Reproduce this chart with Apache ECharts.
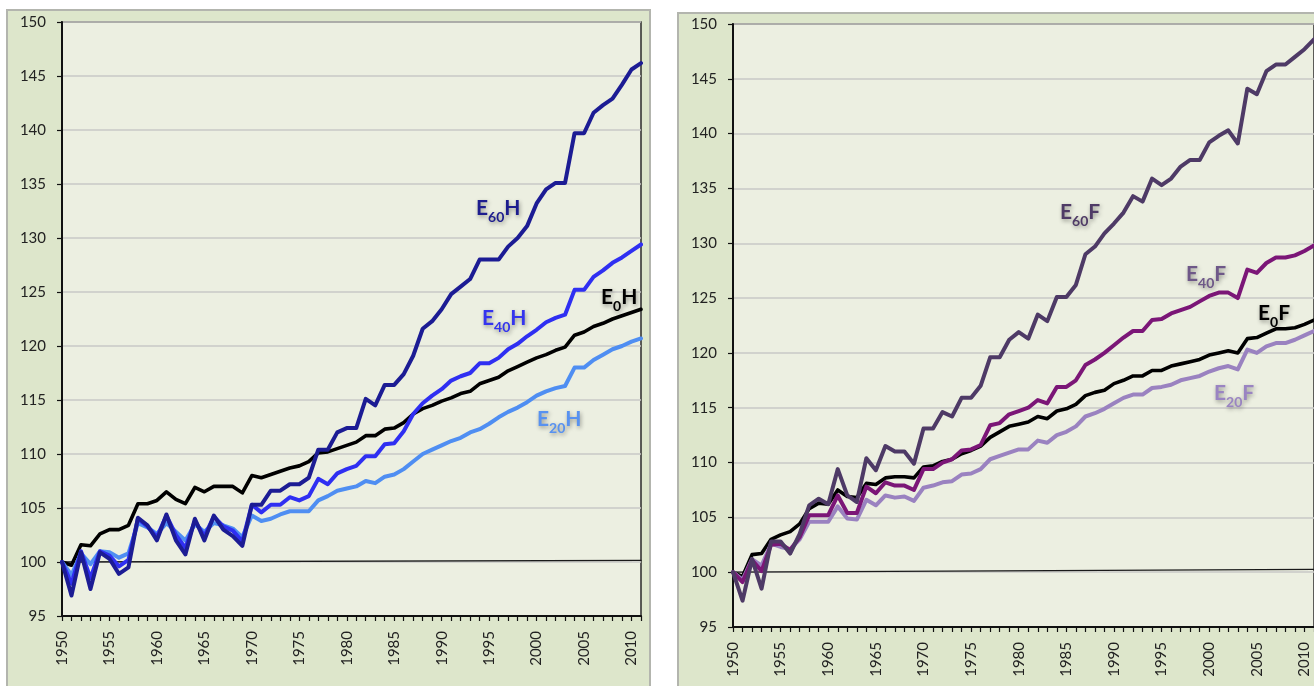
<!DOCTYPE html>
<html>
<head>
<meta charset="utf-8">
<style>
  html, body { margin: 0; padding: 0; background: #ffffff; }
  #chart { width: 1314px; height: 686px; }
</style>
<script src="https://cdn.jsdelivr.net/npm/echarts@6/dist/echarts.min.js"></script>
</head>
<body>
<div id="chart"></div>
<script>
// Index series, 1950 = 100
const years = [];
for (let y = 1950; y <= 2011; y++) years.push(String(y));

// H panel
const e0H = [100.0, 99.7, 101.6, 101.5, 102.6, 103.0, 103.0, 103.4, 105.4, 105.4,
  105.7, 106.5, 105.8, 105.4, 106.9, 106.5, 107.0, 107.0, 107.0, 106.4,
  108.0, 107.8, 108.1, 108.4, 108.7, 108.9, 109.3, 110.1, 110.2, 110.5,
  110.8, 111.1, 111.7, 111.7, 112.3, 112.4, 112.9, 113.7, 114.2, 114.5,
  114.9, 115.2, 115.6, 115.8, 116.5, 116.8, 117.1, 117.7, 118.1, 118.5,
  118.9, 119.2, 119.6, 119.9, 121.0, 121.3, 121.8, 122.1, 122.5, 122.8,
  123.1, 123.4];
const e20H = [100.0, 98.8, 100.8, 99.8, 101.0, 100.9, 100.4, 100.8, 103.6, 103.2,
  102.6, 103.6, 102.8, 102.0, 103.5, 102.8, 103.6, 103.4, 103.1, 102.3,
  104.3, 103.8, 104.0, 104.4, 104.7, 104.7, 104.7, 105.7, 106.1, 106.6,
  106.8, 107.0, 107.5, 107.3, 107.9, 108.1, 108.6, 109.3, 110.0, 110.4,
  110.8, 111.2, 111.5, 112.0, 112.3, 112.8, 113.4, 113.9, 114.3, 114.8,
  115.4, 115.8, 116.1, 116.3, 118.0, 118.0, 118.7, 119.2, 119.7, 120.0,
  120.4, 120.7];
const e40H = [100.0, 98.0, 101.0, 98.5, 101.0, 100.6, 99.6, 100.2, 104.0, 103.3,
  102.3, 104.3, 102.5, 101.3, 103.8, 102.4, 104.2, 103.3, 102.9, 101.9,
  105.3, 104.6, 105.3, 105.3, 106.0, 105.7, 106.1, 107.7, 107.2, 108.2,
  108.6, 108.9, 109.8, 109.8, 110.9, 111.0, 112.1, 113.7, 114.7, 115.4,
  116.0, 116.8, 117.2, 117.5, 118.4, 118.4, 118.9, 119.7, 120.2, 120.9,
  121.5, 122.2, 122.6, 122.9, 125.2, 125.2, 126.4, 127.0, 127.7, 128.2,
  128.8, 129.4];
const e60H = [100.0, 96.9, 100.9, 97.5, 100.9, 100.3, 98.9, 99.5, 104.1, 103.4,
  102.0, 104.4, 102.0, 100.7, 104.0, 102.0, 104.3, 103.0, 102.4, 101.5,
  105.3, 105.3, 106.6, 106.6, 107.2, 107.2, 107.8, 110.4, 110.4, 112.0,
  112.4, 112.4, 115.1, 114.5, 116.4, 116.4, 117.4, 119.1, 121.6, 122.3,
  123.4, 124.8, 125.5, 126.2, 128.0, 128.0, 128.0, 129.2, 130.0, 131.1,
  133.2, 134.5, 135.1, 135.1, 139.7, 139.7, 141.6, 142.3, 142.9, 144.2,
  145.6, 146.2];

// F panel
const e0F = [100.0, 99.6, 101.6, 101.7, 103.0, 103.4, 103.7, 104.4, 105.8, 106.3,
  106.2, 107.5, 106.9, 106.8, 108.1, 108.0, 108.6, 108.7, 108.7, 108.6,
  109.6, 109.7, 110.1, 110.3, 110.8, 111.1, 111.5, 112.3, 112.8, 113.3,
  113.5, 113.7, 114.2, 114.0, 114.7, 114.9, 115.3, 116.1, 116.4, 116.6,
  117.2, 117.5, 117.9, 117.9, 118.4, 118.4, 118.8, 119.0, 119.2, 119.4,
  119.8, 120.0, 120.2, 120.0, 121.3, 121.4, 121.8, 122.2, 122.2, 122.3,
  122.6, 123.0];
const e20F = [100.0, 99.3, 101.2, 100.6, 102.6, 102.3, 102.1, 103.0, 104.6, 104.6,
  104.6, 106.0, 104.9, 104.8, 106.6, 106.1, 107.0, 106.8, 106.9, 106.5,
  107.7, 107.9, 108.2, 108.3, 108.9, 109.0, 109.4, 110.3, 110.6, 110.9,
  111.2, 111.2, 112.0, 111.8, 112.5, 112.8, 113.3, 114.2, 114.5, 114.9,
  115.4, 115.9, 116.2, 116.2, 116.8, 116.9, 117.1, 117.5, 117.7, 117.9,
  118.3, 118.6, 118.8, 118.5, 120.3, 120.0, 120.6, 120.9, 120.9, 121.2,
  121.6, 122.0];
const e40F = [100.0, 99.1, 101.1, 100.1, 102.5, 102.6, 102.0, 103.2, 105.2, 105.2,
  105.2, 107.0, 105.4, 105.4, 107.8, 107.2, 108.2, 107.9, 107.9, 107.5,
  109.4, 109.4, 110.0, 110.3, 111.1, 111.2, 111.6, 113.4, 113.6, 114.4,
  114.7, 115.0, 115.7, 115.4, 116.9, 116.9, 117.5, 118.9, 119.4, 120.0,
  120.7, 121.4, 122.0, 122.0, 123.0, 123.1, 123.6, 123.9, 124.2, 124.7,
  125.2, 125.5, 125.5, 125.0, 127.6, 127.3, 128.2, 128.7, 128.7, 128.9,
  129.3, 129.8];
const e60F = [100.0, 97.4, 101.2, 98.5, 102.8, 102.8, 101.7, 103.5, 106.1, 106.7,
  106.2, 109.4, 107.0, 106.4, 110.4, 109.3, 111.5, 111.0, 111.0, 109.9,
  113.1, 113.1, 114.6, 114.2, 115.9, 115.9, 117.0, 119.6, 119.6, 121.2,
  121.9, 121.3, 123.5, 122.9, 125.1, 125.1, 126.2, 129.0, 129.7, 130.9,
  131.8, 132.8, 134.3, 133.8, 135.9, 135.3, 135.9, 137.0, 137.6, 137.6,
  139.2, 139.8, 140.3, 139.1, 144.1, 143.6, 145.7, 146.3, 146.3, 147.0,
  147.7, 148.6];

// Reference lines near 100
const baseH = [['1950', 100.0], ['2011', 100.15]];
const baseF = [['1950', 100.0], ['2011', 100.25]];

const FONT = 'Lato, "Open Sans", sans-serif';
const chart = echarts.init(document.getElementById('chart'), null, { renderer: 'canvas' });

function xAxisFor(gridIndex) {
  return {
    type: 'category', gridIndex, data: years, boundaryGap: false,
    axisLine: { lineStyle: { color: '#111', width: 2 } },
    axisTick: { show: true, interval: 0, length: 5, lineStyle: { color: '#111', width: 1.2 } },
    axisLabel: { interval: 4, rotate: 90, margin: 15, color: '#222', fontFamily: FONT, fontSize: 15 },
    splitLine: { show: false }
  };
}
function yAxisFor(gridIndex) {
  return {
    type: 'value', gridIndex, min: 95, max: 150, interval: 5,
    axisLine: { show: true, lineStyle: { color: '#111', width: 2 } },
    axisTick: { show: true, length: 5, lineStyle: { color: '#111', width: 1.2 } },
    axisLabel: { margin: 16, color: '#222', fontFamily: FONT, fontSize: 15 },
    splitLine: { show: true, lineStyle: { color: '#c9c9c6', width: 1.5 } }
  };
}
function line(name, data, color, width, xi, z) {
  return {
    name, type: 'line', data, xAxisIndex: xi, yAxisIndex: xi,
    symbol: 'none', smooth: false, z,
    lineStyle: { color, width, cap: 'round', join: 'round' },
    emphasis: { disabled: true }
  };
}

// Series name tag with a subscript, e.g. E₆₀H
function tag(x, y, main, sub, tail, color) {
  const shadow = { textShadowColor: 'rgba(0,0,0,0.38)', textShadowBlur: 4, textShadowOffsetX: 1, textShadowOffsetY: 2 };
  return {
    type: 'text', left: x, top: y, z: 100,
    style: Object.assign({
      text: '{m|' + main + '}{s|' + sub + '}{m|' + tail + '}',
      rich: {
        m: Object.assign({ fontSize: 21, fontWeight: 'bold', fontFamily: FONT, fill: color, lineHeight: 24 }, shadow),
        s: Object.assign({ fontSize: 14, fontWeight: 'bold', fontFamily: FONT, fill: color, lineHeight: 24, padding: [17, 0, 0, 0] }, shadow)
      }
    }, shadow)
  };
}

chart.setOption({
  animation: false,
  backgroundColor: '#ffffff',
  grid: [
    { left: 62, top: 22, width: 579, height: 594, show: true, backgroundColor: '#ecefe1', borderColor: '#2b2b2b', borderWidth: 1.5 },
    { left: 733, top: 24, width: 586, height: 603, show: true, backgroundColor: '#ecefe1', borderColor: '#2b2b2b', borderWidth: 1.5 }
  ],
  xAxis: [xAxisFor(0), xAxisFor(1)],
  yAxis: [yAxisFor(0), yAxisFor(1)],
  graphic: [
    { type: 'rect', z: -10, shape: { x: 7, y: 10, width: 643, height: 690 }, style: { fill: '#dde6cb', stroke: '#b3b5ae', lineWidth: 2 } },
    { type: 'rect', z: -10, shape: { x: 678, y: 13, width: 700, height: 690 }, style: { fill: '#dde6cb', stroke: '#b3b5ae', lineWidth: 2 } },
    tag(476, 193, 'E', '60', 'H', '#1d1d8e'),
    tag(482, 303, 'E', '40', 'H', '#3434ee'),
    tag(601, 282, 'E', '0', 'H', '#000000'),
    tag(537, 404, 'E', '20', 'H', '#5892f0'),
    tag(1060, 197, 'E', '60', 'F', '#4f3b66'),
    tag(1186, 259, 'E', '40', 'F', '#6e5888'),
    tag(1258, 298, 'E', '0', 'F', '#000000'),
    tag(1214, 378, 'E', '20', 'F', '#9a84c2')
  ],
  series: [
    line('baseH', baseH, '#1a1a1a', 1.3, 0, 1),
    line('E0H', e0H, '#000000', 3.6, 0, 2),
    line('E20H', e20H, '#4f8ef2', 4, 0, 3),
    line('E40H', e40H, '#2f2ff2', 4, 0, 4),
    line('E60H', e60H, '#1c1c94', 4, 0, 5),
    line('baseF', baseF, '#1a1a1a', 1.3, 1, 1),
    line('E0F', e0F, '#000000', 3.6, 1, 2),
    line('E20F', e20F, '#9a82c0', 4, 1, 3),
    line('E40F', e40F, '#7b1677', 4, 1, 4),
    line('E60F', e60F, '#4e3a66', 4, 1, 5)
  ]
});
</script>
</body>
</html>
